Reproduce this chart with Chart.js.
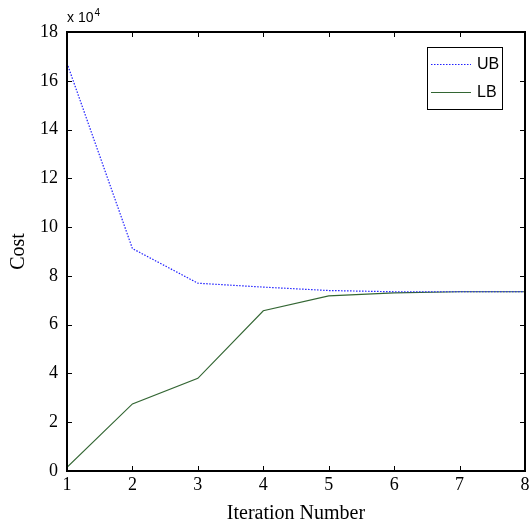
<!DOCTYPE html>
<html><head><meta charset="utf-8">
<script src="https://cdn.jsdelivr.net/npm/chart.js@4"></script>
<style>html,body{margin:0;padding:0;background:#fff}#wrap{width:529px;height:526px}</style>
</head><body><div id="wrap"><canvas id="c" width="529" height="526"></canvas></div>
<script>
const iterations = [1, 2, 3, 4, 5, 6, 7, 8];
const ubValues = [16.72, 9.12, 7.7, 7.54, 7.4, 7.35, 7.35, 7.35];
const lbValues = [0.15, 2.75, 3.8, 6.57, 7.18, 7.3, 7.35, 7.35];
const yTicks = [0, 2, 4, 6, 8, 10, 12, 14, 16, 18];
const seriesNames = ['UB', 'LB'];

const serif = 'Liberation Serif';
const sans = 'Liberation Sans';

const boxPlugin = {
  id: 'boxPlugin',
  afterDraw(chart) {
    const ctx = chart.ctx, a = chart.chartArea;
    const xs = chart.scales.x, ys = chart.scales.y;
    ctx.save();
    ctx.strokeStyle = '#000';
    ctx.lineWidth = 2;
    ctx.strokeRect(a.left, a.top, a.right - a.left, a.bottom - a.top);
    ctx.lineWidth = 1;
    ctx.beginPath();
    iterations.forEach(v => {
      const p = Math.round(xs.getPixelForValue(v)) + 0.5;
      ctx.moveTo(p, a.bottom); ctx.lineTo(p, a.bottom - 5);
      ctx.moveTo(p, a.top); ctx.lineTo(p, a.top + 5);
    });
    yTicks.forEach(v => {
      const p = Math.round(ys.getPixelForValue(v)) + 0.5;
      ctx.moveTo(a.left, p); ctx.lineTo(a.left + 5, p);
      ctx.moveTo(a.right, p); ctx.lineTo(a.right - 5, p);
    });
    ctx.stroke();
    // exponent
    ctx.fillStyle = '#000';
    ctx.font = '14px ' + sans;
    ctx.textBaseline = 'alphabetic';
    ctx.textAlign = 'left';
    ctx.fillText('x 10', a.left, 22);
    const w = ctx.measureText('x 10').width;
    ctx.font = '10px ' + sans;
    ctx.fillText('4', a.left + w + 1, 16);
    // legend
    const lx = 427, ly = 47, lw = 75, lh = 62;
    ctx.fillStyle = '#fff';
    ctx.fillRect(lx, ly, lw, lh);
    ctx.lineWidth = 1;
    ctx.strokeStyle = '#000';
    ctx.strokeRect(lx + 0.5, ly + 0.5, lw, lh);
    chart.data.datasets.forEach((ds, i) => {
      const y = [64, 92][i] + 0.5;
      ctx.save();
      ctx.strokeStyle = ds.borderColor;
      ctx.lineWidth = ds.borderWidth;
      ctx.setLineDash(ds.borderDash || []);
      ctx.beginPath(); ctx.moveTo(431, y); ctx.lineTo(471, y); ctx.stroke();
      ctx.restore();
      ctx.fillStyle = '#000';
      ctx.font = '16px ' + sans;
      ctx.textBaseline = 'middle';
      ctx.fillText(ds.label, 477, y);
    });
    ctx.restore();
  }
};

new Chart(document.getElementById('c'), {
  type: 'line',
  data: {
    datasets: [
      { label: seriesNames[0], data: iterations.map((x, i) => ({x, y: ubValues[i]})),
        borderColor: '#2020ff', borderWidth: 1.2, borderDash: [1.5, 1.5], pointRadius: 0, tension: 0, fill: false },
      { label: seriesNames[1], data: iterations.map((x, i) => ({x, y: lbValues[i]})),
        borderColor: '#336633', borderWidth: 1.2, pointRadius: 0, tension: 0, fill: false }
    ]
  },
  options: {
    responsive: false, animation: false,
    layout: { padding: { top: 32, right: 4, left: 0, bottom: 0 } },
    plugins: { legend: { display: false }, tooltip: { enabled: false } },
    scales: {
      x: {
        type: 'linear', min: 1, max: 8,
        grid: { display: false, drawTicks: false },
        border: { display: false },
        ticks: { stepSize: 1, color: '#000', font: { family: serif, size: 18 }, padding: 3 },
        title: { display: true, text: 'Iteration Number', color: '#000', font: { family: serif, size: 20 }, padding: { top: 4, bottom: 0 } },
        afterFit(s) { s.height = 55; s.paddingLeft = 0; s.paddingRight = 0; }
      },
      y: {
        type: 'linear', min: 0, max: 18,
        grid: { display: false, drawTicks: false },
        border: { display: false },
        afterBuildTicks(s) { s.ticks = yTicks.map(v => ({ value: v })); },
        ticks: { color: '#000', font: { family: serif, size: 18 }, padding: 9 },
        title: { display: true, text: 'Cost', color: '#000', font: { family: serif, size: 20 }, padding: { top: 7, bottom: 4 } },
        afterFit(s) { s.width = 67; s.paddingTop = 0; s.paddingBottom = 0; }
      }
    }
  },
  plugins: [boxPlugin]
});
</script></body></html>
